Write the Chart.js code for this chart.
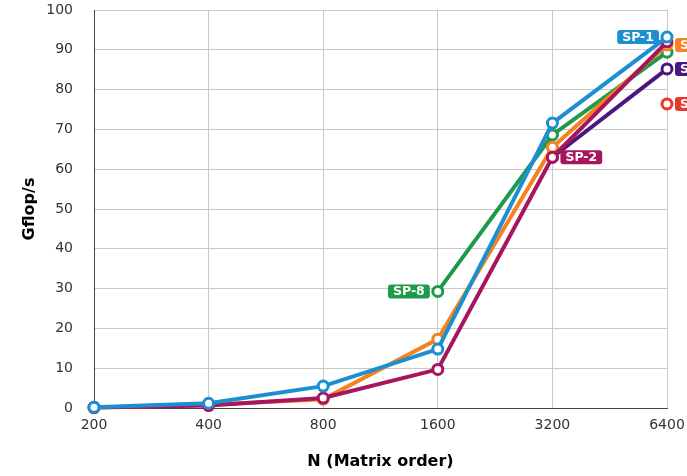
<!DOCTYPE html>
<html>
<head>
<meta charset="utf-8">
<script src="https://cdn.jsdelivr.net/npm/chart.js@4"></script>
<style>
  html, body { margin: 0; padding: 0; background: #fff; }
  #wrap { width: 687px; height: 476px; }
</style>
</head>
<body>
<div id="wrap"><canvas id="perfChart"></canvas></div>
<script>
const sizes = ['200', '400', '800', '1600', '3200', '6400'];

const sp1 = [0.2, 1.2, 5.5, 14.8, 71.6, 93.2];
const sp2 = [0.1, 0.6, 2.5, 9.7, 63, 92];
const sp4 = [0.1, 0.8, 2.2, 17.3, 65.5, 91.2];
const sp8 = [null, null, null, 29.3, 68.6, 89.4];
const sp16 = [null, null, null, null, 63, 85.2];
const sp32 = [null, null, null, null, null, 76.4];

// label: which dataset, which point, which side
const tags = [
    { ds: 0, idx: 5, side: 'left' },
    { ds: 1, idx: 4, side: 'right' },
    { ds: 2, idx: 5, side: 'right' },
    { ds: 3, idx: 3, side: 'left' },
    { ds: 4, idx: 5, side: 'right' },
    { ds: 5, idx: 5, side: 'right' },
];

function series(label, data, color, order){
    return {
        label: label,
        data: data,
        borderColor: color,
        backgroundColor: color,
        borderWidth: 4,
        pointRadius: 5,
        pointBorderWidth: 3,
        pointBackgroundColor: '#fff',
        pointBorderColor: color,
        tension: 0,
        clip: false,
        order: order,
    };
}

const tagPlugin = {
    id: 'tags',
    afterDatasetsDraw(chart){
        const ctx = chart.ctx;
        const x = chart.scales.x, y = chart.scales.y;
        ctx.save();
        ctx.font = 'bold 12.5px "DejaVu Sans"';
        ctx.textBaseline = 'middle';
        tags.forEach(t => {
            const ds = chart.data.datasets[t.ds];
            const px = x.getPixelForValue(t.idx);
            const py = y.getPixelForValue(ds.data[t.idx]);
            const w = ctx.measureText(ds.label).width + 10;
            const h = 14;
            const left = t.side === 'left' ? px - 8 - w : px + 8;
            ctx.fillStyle = ds.borderColor;
            ctx.beginPath();
            ctx.roundRect(left, py - h / 2, w, h, 3);
            ctx.fill();
            ctx.fillStyle = '#fff';
            ctx.textAlign = 'left';
            ctx.fillText(ds.label, left + 5, py + 0.5);
        });
        ctx.restore();
    }
};

const ctx = document.getElementById('perfChart');
new Chart(ctx, {
    type: 'line',
    data: {
        labels: sizes,
        datasets: [
            series('SP-1', sp1, '#1c8fd1', 0),
            series('SP-2', sp2, '#a6155d', 1),
            series('SP-4', sp4, '#f5821f', 2),
            series('SP-8', sp8, '#1f9a48', 3),
            series('SP-16', sp16, '#4b1681', 4),
            series('SP-32', sp32, '#e9372b', 5),
        ]
    },
    options: {
        responsive: true,
        maintainAspectRatio: false,
        animation: false,
        layout: {
            padding: { top: 10, right: 20, left: 0, bottom: 0 }
        },
        scales: {
            x: {
                offset: false,
                grid: { color: '#c8c8c8', drawTicks: false },
                border: { color: '#444', width: 1 },
                ticks: {
                    color: '#333',
                    font: { family: 'DejaVu Sans', size: 14 },
                    padding: 9,
                    maxRotation: 0,
                },
                title: {
                    display: true,
                    text: 'N (Matrix order)',
                    color: '#000',
                    font: { family: 'DejaVu Sans', size: 16, weight: 'bold' },
                    padding: { top: 0, bottom: 5 },
                },
                afterFit: (s) => {
                    s.height = 68;
                    s.paddingLeft = 0;
                    s.paddingRight = 0;
                },
            },
            y: {
                min: 0,
                max: 100,
                grid: { color: '#c8c8c8', drawTicks: false },
                border: { color: '#444', width: 1 },
                ticks: {
                    stepSize: 10,
                    color: '#333',
                    font: { family: 'DejaVu Sans', size: 14 },
                    padding: 21,
                },
                title: {
                    display: true,
                    text: 'Gflop/s',
                    color: '#000',
                    font: { family: 'DejaVu Sans', size: 16, weight: 'bold' },
                    padding: { top: 20, bottom: 0 },
                },
                afterFit: (s) => {
                    s.width = 94;
                    s.paddingTop = 0;
                    s.paddingBottom = 0;
                },
            },
        },
        plugins: {
            legend: { display: false },
            tooltip: { enabled: false },
        }
    },
    plugins: [tagPlugin],
});
</script>
</body>
</html>
